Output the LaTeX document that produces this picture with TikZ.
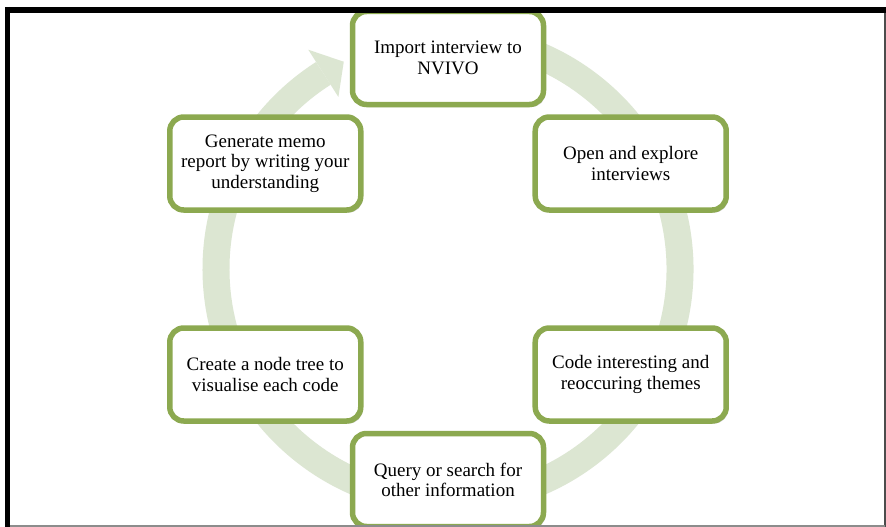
\documentclass[tikz,border=0pt]{standalone}
\usepackage{fontspec}
\setmainfont{Liberation Serif}
\usetikzlibrary{shadows,calc}
\definecolor{ringgreen}{HTML}{DCE6D2}
\definecolor{boxgreen}{HTML}{8CA950}
\begin{document}
\begin{tikzpicture}[x=1pt,y=-1pt,
  stepbox/.style={draw=boxgreen, line width=5.5pt, rounded corners=14pt, fill=white,
    minimum width=191pt, minimum height=93pt, align=center, inner sep=0pt,
    font=\fontsize{19}{20.5}\selectfont,
    drop shadow={shadow xshift=2pt, shadow yshift=-2.5pt, opacity=0.3, fill=black!60}},
  ring/.style={ringgreen, line width=27pt}]
\useasboundingbox (0,0) rectangle (886,527);
\fill[white] (0,0) rectangle (886,527);
\coordinate (c) at (448,269);
\begin{scope}
\clip (10,12.5) rectangle (884.5,525);
\draw[ring] ($(c)+(-100:232)$) arc[start angle=-100, end angle=237.5, radius=232];
\fill[ringgreen] ($(c)+(237.5:204)$) -- ($(c)+(243.3:232)$) -- ($(c)+(237.5:260)$) -- cycle;
\node[stepbox] (s1) at ($(c)+(-90:211)$) {Import interview to\\NVIVO};
\node[stepbox] (s2) at ($(c)+(-30:211)$) {Open and explore\\interviews};
\node[stepbox] (s3) at ($(c)+(30:211)$) {Code interesting and\\reoccuring themes};
\node[stepbox] (s4) at ($(c)+(90:211)$) {Query or search for\\other information};
\node[stepbox] (s5) at ($(c)+(150:211)$) {Create a node tree to\\visualise each code};
\node[stepbox] (s6) at ($(c)+(210:211)$) {Generate memo\\report by writing your\\understanding};
\end{scope}
\draw[black, line width=5.6pt] (5,9.8) -- (886,9.8);
\draw[black, line width=5pt] (7.5,7) -- (7.5,527);
\draw[black!70, line width=1.2pt] (885,12.6) -- (885,527);
\draw[black!45, line width=1.5pt] (10,525.8) -- (885,525.8);
\end{tikzpicture}
\end{document}
